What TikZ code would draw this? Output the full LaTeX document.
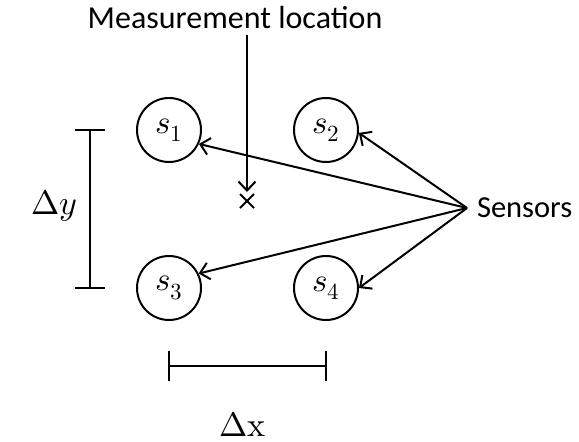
\documentclass[tikz,border=0pt]{standalone}
\usepackage{fontspec}
\usepackage{unicode-math}
\setmainfont{Carlito}
\setmathfont{Latin Modern Math}
\usetikzlibrary{calc,positioning,arrows.meta}

\begin{document}
\begin{tikzpicture}[x=1pt,y=-1pt,line width=2pt,
  every node/.style={font=\fontsize{30.5}{36}\selectfont},
  sens/.style={circle,draw,line width=2pt,inner sep=0pt,minimum size=64pt,font=\fontsize{33}{36}\selectfont},
  mth/.style={font=\fontsize{34}{38}\selectfont},
  ptr/.style={-{Straight Barb[length=9pt,width=17pt,line width=2pt]}},
  bar/.style={line width=2pt}]
  \useasboundingbox (0,0) rectangle (579,442);
  \node[sens] (s1) at (169,130) {$s_1$};
  \node[sens] (s2) at (326,130) {$s_2$};
  \node[sens] (s3) at (169,288) {$s_3$};
  \node[sens] (s4) at (326,288) {$s_4$};
  % measurement point
  \node[font=\fontsize{32}{36}\selectfont] (loc) at (235,18) {Measurement location};
  \coordinate (loctop) at (247,35);
  \coordinate (meas) at (247,201);
  \draw[ptr] (loctop) -- ($(meas)+(0,-9)$);
  \draw ($(meas)+(-7,-7)$) -- ($(meas)+(7,7)$);
  \draw ($(meas)+(-7,7)$) -- ($(meas)+(7,-7)$);
  % sensors
  \coordinate (hub) at (467,208);
  \node[right=9pt of hub,inner sep=0pt] (lab) {Sensors};
  \draw[ptr] (hub) -- (s1.-25);
  \draw[ptr] (hub) -- (s2.-5);
  \draw[ptr] (hub) -- (s3.26);
  \draw[ptr] (hub) -- (s4.0);
  % spacing bars
  \coordinate (yt) at (90,130); \coordinate (yb) at (90,288);
  \draw[bar] (yt) -- (yb);
  \draw[bar] ($(yt)+(-15,0)$) -- ($(yt)+(15,0)$);
  \draw[bar] ($(yb)+(-15,0)$) -- ($(yb)+(15,0)$);
  \node[mth] (dy) at (54,206) {$\Delta y$};
  \coordinate (xl) at (169,366); \coordinate (xr) at (326,366);
  \draw[bar] (xl) -- (xr);
  \draw[bar] ($(xl)+(0,-15)$) -- ($(xl)+(0,15)$);
  \draw[bar] ($(xr)+(0,-15)$) -- ($(xr)+(0,15)$);
  \node[mth,inner sep=1pt] (dx) at (243,424) {$\Delta\symup{x}$};
\end{tikzpicture}
\end{document}
